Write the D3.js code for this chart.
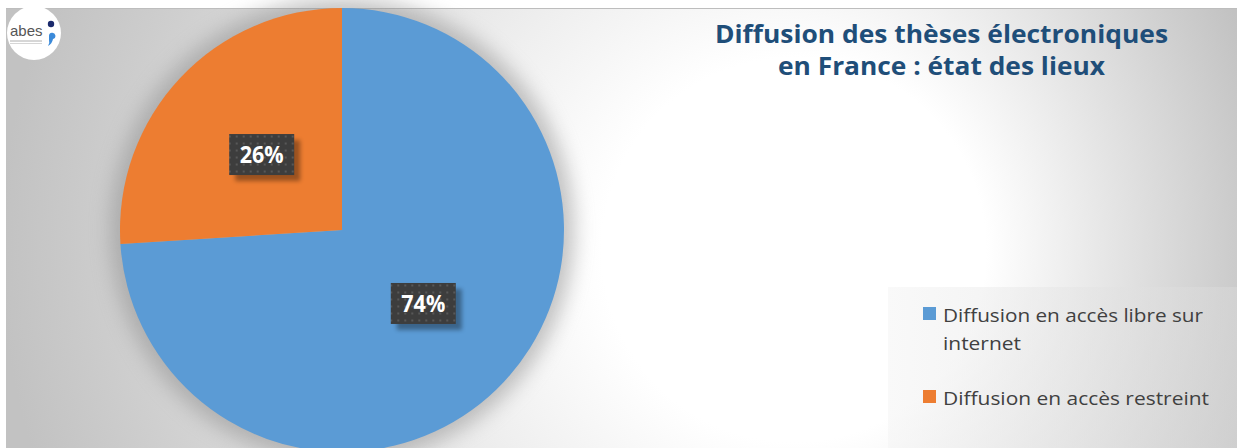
<!DOCTYPE html>
<html>
<head>
<meta charset="utf-8">
<script src="https://cdn.jsdelivr.net/npm/d3@7"></script>
<style>
html,body{margin:0;padding:0;background:#fff;}
svg{display:block;}
</style>
</head>
<body>
<svg id="chart" width="1237" height="448"></svg>
<script>
const categories = ["Diffusion en accès libre sur internet", "Diffusion en accès restreint"];
const values = [74, 26];
const colors = ["#5b9bd5", "#ed7d31"];
const labels = ["74%", "26%"];
const legendLines = [["Diffusion en accès libre sur", "internet"], ["Diffusion en accès restreint"]];
const titleLines = ["Diffusion des thèses électroniques", "en France : état des lieux"];

const W = 1237, H = 448;
const svg = d3.select("#chart");
const defs = svg.append("defs");

// background gradient
const bg = defs.append("radialGradient").attr("id","bgGrad")
  .attr("gradientUnits","userSpaceOnUse")
  .attr("cx",640).attr("cy",250).attr("r",640)
  .attr("fx",860).attr("fy",250);
bg.append("stop").attr("offset","0").attr("stop-color","#ffffff");
bg.append("stop").attr("offset","0.3").attr("stop-color","#ffffff");
bg.append("stop").attr("offset","0.75").attr("stop-color","#d8d8d8");
bg.append("stop").attr("offset","1").attr("stop-color","#c2c2c2");

const lg = defs.append("linearGradient").attr("id","legGrad")
  .attr("x1","0").attr("y1","0").attr("x2","1").attr("y2","0");
lg.append("stop").attr("offset","0").attr("stop-color","#f4f4f4");
lg.append("stop").attr("offset","1").attr("stop-color","#d8d8d8");

// patterns / filters
const pat = defs.append("pattern").attr("id","dots").attr("patternUnits","userSpaceOnUse")
  .attr("width",7).attr("height",7);
pat.append("rect").attr("width",7).attr("height",7).attr("fill","#3d3d3d");
pat.append("rect").attr("x",2).attr("y",2).attr("width",2).attr("height",2).attr("fill","#585858");

const blur = defs.append("filter").attr("id","pieShadow").attr("x","-20%").attr("y","-20%").attr("width","140%").attr("height","140%");
blur.append("feGaussianBlur").attr("stdDeviation",10);

const lblShadow = defs.append("filter").attr("id","lblShadow").attr("x","-30%").attr("y","-30%").attr("width","160%").attr("height","160%");
lblShadow.append("feGaussianBlur").attr("stdDeviation",2);

// frame
svg.append("rect").attr("x",0).attr("y",0).attr("width",W).attr("height",H).attr("fill","#ffffff");
svg.append("rect").attr("x",6).attr("y",8).attr("width",W-6).attr("height",H-8).attr("fill","url(#bgGrad)");
svg.append("line").attr("x1",6).attr("x2",W).attr("y1",8.5).attr("y2",8.5).attr("stroke","#bdbdbd").attr("stroke-width",1);
svg.append("rect").attr("x",888).attr("y",287).attr("width",W-888).attr("height",H-287).attr("fill","url(#legGrad)").attr("opacity",0.55);

// pie
const cx = 342, cy = 230, R = 222;
const g = svg.append("g").attr("transform",`translate(${cx},${cy})`);
g.append("circle").attr("r",R+10).attr("fill","#8a8a8a").attr("opacity",0.5).attr("filter","url(#pieShadow)");

const pie = d3.pie().sort(null).value(d => d);
const arcs = pie(values);
const arc = d3.arc().innerRadius(0).outerRadius(R);
g.selectAll("path.slice").data(arcs).join("path").attr("class","slice")
  .attr("d",arc).attr("fill",(d,i)=>colors[i]);

const labelArc = d3.arc().innerRadius(R*0.49).outerRadius(R*0.49);
const lbl = g.selectAll("g.lbl").data(arcs).join("g").attr("class","lbl")
  .attr("transform",d=>{const c = labelArc.centroid(d); return `translate(${c[0]+ (d.index===0?2:-1)},${c[1]-1})`;});
const bw = 65, bh = 41;
lbl.append("rect").attr("x",-bw/2+6).attr("y",-bh/2+6).attr("width",bw).attr("height",bh)
  .attr("fill","#000").attr("opacity",0.35).attr("filter","url(#lblShadow)");
lbl.append("rect").attr("x",-bw/2).attr("y",-bh/2).attr("width",bw).attr("height",bh).attr("fill","url(#dots)");
lbl.append("text").attr("text-anchor","middle").attr("y",8.5)
  .attr("font-family","'Open Sans', sans-serif").attr("font-weight","bold").attr("font-size",23)
  .attr("fill","#ffffff").attr("textLength",44).attr("lengthAdjust","spacingAndGlyphs")
  .text((d,i)=>labels[i]);

// title
const title = svg.append("g");
title.selectAll("text").data(titleLines).join("text")
  .attr("x",941.5).attr("y",(d,i)=>43+i*32).attr("text-anchor","middle")
  .attr("font-family","'Open Sans', sans-serif").attr("font-weight","bold").attr("font-size",25)
  .attr("fill","#1f4e79")
  .attr("textLength",(d,i)=>[453,327][i]).attr("lengthAdjust","spacingAndGlyphs")
  .text(d=>d);

// legend
const legY = [307, 390];
const leg = svg.selectAll("g.leg").data(categories).join("g").attr("class","leg");
leg.append("rect").attr("x",923).attr("y",(d,i)=>legY[i]).attr("width",13).attr("height",13).attr("fill",(d,i)=>colors[i]);
const lenMap = {"Diffusion en accès libre sur":260, "internet":78, "Diffusion en accès restreint":266};
leg.each(function(d,i){
  const gg = d3.select(this);
  legendLines[i].forEach((t,j)=>{
    gg.append("text").attr("x",943).attr("y",legY[i]+15+j*28)
      .attr("font-family","'Open Sans', sans-serif").attr("font-size",18.5).attr("fill","#404040")
      .attr("textLength",lenMap[t]).attr("lengthAdjust","spacingAndGlyphs").text(t);
  });
});

// logo
const logo = svg.append("g").attr("transform","translate(34,33)");
logo.append("circle").attr("r",27).attr("fill","#ffffff");
logo.append("text").attr("x",-24).attr("y",3).attr("font-family","'Liberation Sans', sans-serif")
  .attr("font-size",15).attr("fill","#555").text("abes");
logo.append("line").attr("x1",-24).attr("x2",8).attr("y1",8).attr("y2",8).attr("stroke","#999").attr("stroke-width",0.8);
logo.append("line").attr("x1",-24).attr("x2",8).attr("y1",10.5).attr("y2",10.5).attr("stroke","#bbb").attr("stroke-width",0.6);
logo.append("circle").attr("cx",17).attr("cy",-9).attr("r",3.2).attr("fill","#1a2a6c");
logo.append("path").attr("d","M15,3 a3.2,3.2 0 1 1 4,3 q-1,5 -5,7 q2,-3 1,-6 z").attr("fill","#3b8ad9");
</script>
</body>
</html>
